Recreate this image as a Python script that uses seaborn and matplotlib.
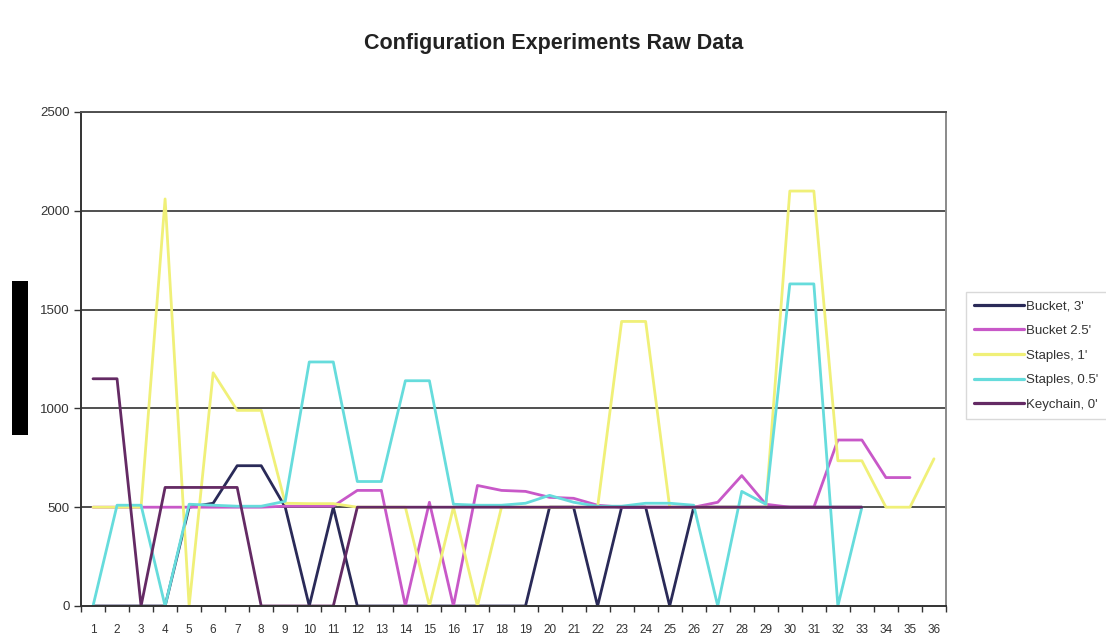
import numpy as np
import pandas as pd
import matplotlib
matplotlib.use("Agg")
import matplotlib.pyplot as plt
from matplotlib.patches import Rectangle
import seaborn as sns

nan = np.nan

title = "Configuration Experiments Raw Data"
runs = list(range(1, 37))
series_names = ["Bucket, 3'", "Bucket 2.5'", "Staples, 1'", "Staples, 0.5'", "Keychain, 0'"]

bucket_3 = [0, 0, 0, 0, 500, 520, 710, 710, 500, 0,
            500, 0, 0, 0, 0, 0, 0, 0, 0, 500,
            500, 0, 500, 500, 0, 500, 500, 500, 500, 500,
            500, 500, 500, nan, nan, nan]
bucket_25 = [500, 500, 500, 500, 500, 500, 500, 500, 505, 505,
             505, 585, 585, 0, 525, 0, 610, 585, 580, 550,
             545, 510, 500, 500, 500, 500, 525, 660, 515, 500,
             500, 840, 840, 650, 650, nan]
staples_1 = [500, 500, 500, 2060, 0, 1180, 990, 990, 520, 518,
             518, 500, 500, 500, 0, 500, 0, 500, 500, 500,
             500, 500, 1440, 1440, 500, 500, 500, 500, 500, 2100,
             2100, 735, 735, 500, 500, 745]
staples_05 = [0, 510, 510, 0, 515, 510, 505, 505, 530, 1235,
              1235, 630, 630, 1140, 1140, 515, 510, 510, 520, 560,
              525, 505, 505, 520, 520, 510, 0, 580, 515, 1630,
              1630, 0, 500, nan, nan, nan]
keychain_0 = [1150, 1150, 0, 600, 600, 600, 600, 0, 0, 0,
              0, 500, 500, 500, 500, 500, 500, 500, 500, 500,
              500, 500, 500, 500, 500, 500, 500, 500, 500, 500,
              500, 500, 500, nan, nan, nan]

y_ticks = [0, 500, 1000, 1500, 2000, 2500]
colors = ["#2a2a58", "#c858c8", "#f0f078", "#66dcdc", "#642a64"]

frames = []
for name, vals in zip(series_names, [bucket_3, bucket_25, staples_1, staples_05, keychain_0]):
    frames.append(pd.DataFrame({"run": runs, "value": vals, "series": name}))
df = pd.concat(frames, ignore_index=True).dropna()

sns.set_style("white")
plt.rcParams["font.family"] = ["Liberation Sans", "DejaVu Sans"]

W, H = 1106, 637
fig = plt.figure(figsize=(W / 100, H / 100), dpi=100)
L, R, T, B = 81, 946, 112, 606
ax = fig.add_axes([L / W, 1 - B / H, (R - L) / W, (B - T) / H])

# gridlines behind data
for yv in y_ticks[1:]:
    ax.axhline(yv, color="#505050", lw=1.4, zorder=0)

sns.lineplot(data=df, x="run", y="value", hue="series", hue_order=series_names,
             palette=colors, linewidth=2.0, estimator=None, sort=False,
             ax=ax, legend=True, zorder=2)

ax.set_xlim(0.5, 36.5)
ax.set_ylim(0, 2500)
ax.set_xlabel("")
ax.set_ylabel("")

ax.set_yticks(y_ticks)
ax.set_yticklabels([str(v) for v in y_ticks], fontsize=9.5, color="#333333")
ax.set_xticks(runs)
ax.set_xticklabels([str(r) for r in runs], fontsize=8.5, color="#333333")
ax.set_xticks(np.arange(0.5, 37, 1.0), minor=True)
ax.tick_params(axis="x", which="major", length=0, pad=13)
ax.tick_params(axis="x", which="minor", length=4, width=1, color="#333333", direction="out")
ax.tick_params(axis="y", which="major", length=5, width=1, color="#333333", direction="out", pad=3)
ax.tick_params(left=True, bottom=True)
ax.xaxis.set_tick_params(which="minor", bottom=True)

for side in ["left", "bottom"]:
    ax.spines[side].set_color("#333333")
    ax.spines[side].set_linewidth(1.4)
ax.spines["top"].set_color("#505050")
ax.spines["top"].set_linewidth(1.4)
ax.spines["right"].set_color("#8a8a8a")
ax.spines["right"].set_linewidth(1.4)

fig.text(554 / W, 1 - 44 / H, title, ha="center", va="center",
         fontsize=15.5, fontweight="bold", color="#222222")

handles, labels = ax.get_legend_handles_labels()
ax.get_legend().remove()
for h in handles:
    h.set_linewidth(2.3)
leg = fig.legend(handles, labels, loc="upper left",
                 bbox_to_anchor=(966 / W, 1 - 292 / H), bbox_transform=fig.transFigure,
                 fontsize=9.5, frameon=True, fancybox=False, handlelength=3.8,
                 handletextpad=0.15, labelspacing=0.94, borderpad=0.62, borderaxespad=0)
leg.get_frame().set_edgecolor("#d0d0d0")
leg.get_frame().set_linewidth(1.0)
for t in leg.get_texts():
    t.set_color("#333333")

# redaction bar at left
fig.patches.append(Rectangle((12 / W, 1 - 435 / H), 16 / W, 154 / H,
                             transform=fig.transFigure, facecolor="black",
                             edgecolor="none", zorder=5))

fig.savefig("out.png", dpi=100)
